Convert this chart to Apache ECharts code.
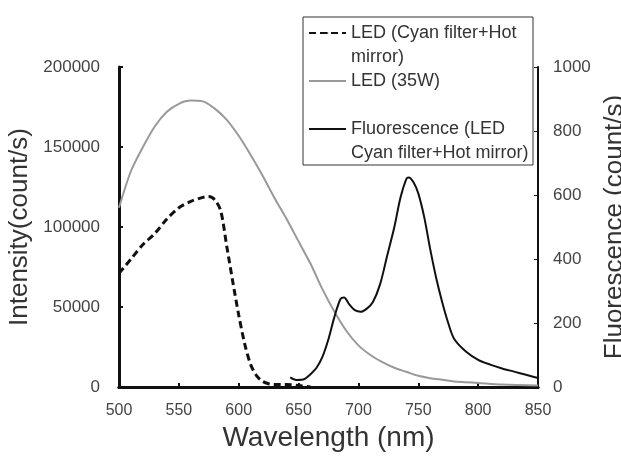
<!DOCTYPE html>
<html><head><meta charset="utf-8">
<script src="https://cdn.jsdelivr.net/npm/echarts@6/dist/echarts.min.js"></script>
<style>html,body{margin:0;padding:0;background:#fff}#c{width:621px;height:465px}</style>
</head><body><div id="c"></div>
<script>
// Data
var cyanWl  = [500,510,520,530,540,550,560,570,575,580,585,590,595,600,605,610,615,620,625,630,640,650,660];
var cyanVal = [71000,80000,89000,96000,105000,112000,116000,118500,119000,117000,110000,88000,66000,45000,27000,14000,7000,3500,2000,1500,1500,1000,0];

var ledWl  = [500,510,520,530,540,550,560,570,580,590,600,610,620,630,640,650,660,670,680,690,700,710,720,730,740,750,760,770,780,790,800,820,850];
var ledVal = [112000,135000,150000,163000,172000,177000,179000,178500,174000,167000,157000,145000,132000,118000,105000,91000,77000,61000,47000,35000,26000,20000,15500,12000,9500,7000,5500,4500,3500,3000,2500,1500,1000];

var fluWl  = [643,648,655,660,665,670,675,680,685,688,692,697,702,707,712,718,724,730,735,740,742,746,750,755,760,765,770,775,780,790,800,810,820,830,840,850];
var fluVal = [30,22,25,40,60,95,150,220,275,280,260,240,235,245,265,320,410,500,590,650,655,640,605,530,430,340,265,200,150,110,85,70,58,48,38,28];

var names = ['LED (Cyan filter+Hot\nmirror)', 'LED (35W)\n', 'Fluorescence (LED\nCyan filter+Hot mirror)'];

function pairs(a,b){return a.map(function(v,i){return [v,b[i]];});}
function plain(v){return String(v);}

var font = '"Liberation Sans", Arial, sans-serif';
var chart = echarts.init(document.getElementById('c'), null, {renderer:'canvas'});
chart.setOption({
  animation:false,
  textStyle:{fontFamily:font},
  grid:{left:119,right:83,top:67,bottom:78,containLabel:false,outerBoundsMode:'none'},
  graphic:[{type:'rect',z:50,shape:{x:303,y:17,width:230,height:148},style:{fill:'#fff',stroke:'#333',lineWidth:1}}],
  legend:{
    z:60, orient:'vertical', left:308, top:-3, padding:0, itemGap:-24,
    itemWidth:37, itemHeight:2,
    data:names,
    formatter:function(n){return '\n'+n;},
    textStyle:{fontSize:18,color:'#333',fontFamily:font,lineHeight:24}
  },
  xAxis:[{
    type:'value',min:500,max:850,interval:50,
    name:'Wavelength (nm)',nameLocation:'middle',nameGap:37,
    nameTextStyle:{fontSize:28,color:'#333',fontFamily:font},
    axisLine:{lineStyle:{color:'#111',width:3}},
    axisTick:{inside:true,length:4,lineStyle:{color:'#111',width:2}},
    axisLabel:{fontSize:16,color:'#444',margin:16,formatter:plain},
    splitLine:{show:false}
  },{
    type:'value',position:'top',min:500,max:850,
    axisLine:{show:true,lineStyle:{color:'#111',width:3}},
    axisTick:{show:false},axisLabel:{show:false},splitLine:{show:false}
  }],
  yAxis:[{
    type:'value',min:0,max:200000,interval:50000,
    name:'Intensity(count/s)',nameLocation:'middle',nameGap:73,
    nameTextStyle:{fontSize:26,color:'#333',fontFamily:font},
    axisLine:{show:true,lineStyle:{color:'#111',width:3}},
    axisTick:{show:true,inside:true,length:4,lineStyle:{color:'#111',width:2}},
    axisLabel:{fontSize:17,color:'#444',margin:19,formatter:plain},
    splitLine:{show:false}
  },{
    type:'value',position:'right',min:0,max:1000,interval:200,
    name:'Fluorescence (count/s)',nameLocation:'middle',nameGap:58,nameRotate:90,
    nameTextStyle:{fontSize:26,color:'#333',fontFamily:font},
    axisLine:{show:true,lineStyle:{color:'#111',width:2}},
    axisTick:{show:true,inside:true,length:4,lineStyle:{color:'#111',width:1}},
    axisLabel:{fontSize:17,color:'#444',margin:15,formatter:plain},
    splitLine:{show:false}
  }],
  series:[
    {name:names[0],type:'line',yAxisIndex:0,showSymbol:false,symbol:'none',smooth:0.3,
     data:pairs(cyanWl,cyanVal),lineStyle:{color:'#111',width:3,type:[7,4]},itemStyle:{color:'#111'}},
    {name:names[1],type:'line',yAxisIndex:0,showSymbol:false,symbol:'none',smooth:0.3,
     data:pairs(ledWl,ledVal),lineStyle:{color:'#999',width:2},itemStyle:{color:'#999'}},
    {name:names[2],type:'line',yAxisIndex:1,showSymbol:false,symbol:'none',smooth:0.3,
     data:pairs(fluWl,fluVal),lineStyle:{color:'#111',width:2},itemStyle:{color:'#111'}}
  ]
});
</script></body></html>
